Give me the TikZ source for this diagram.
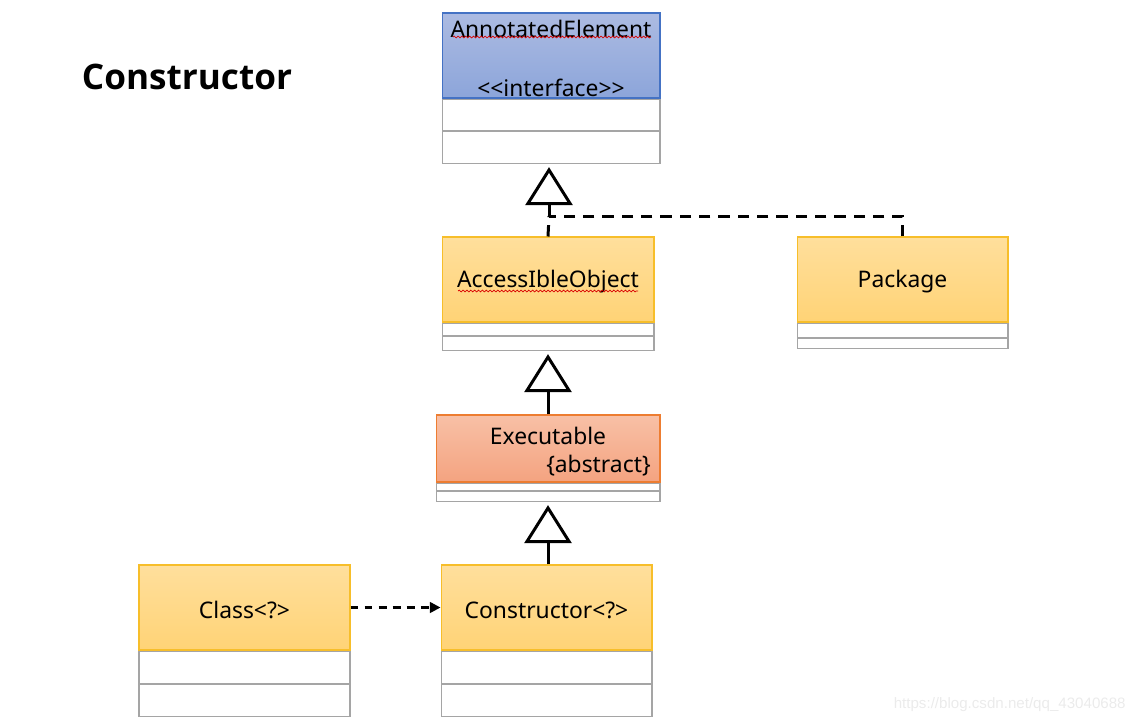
\documentclass[tikz,border=0pt]{standalone}
\usepackage{fontspec}
\setmainfont{Noto Sans}
\newfontfamily\titlefont{Open Sans}
\newfontfamily\wmfont{Liberation Sans}
\usepackage{xcolor}
\usepackage{tikz}
\usetikzlibrary{arrows.meta}
\usetikzlibrary{positioning}
\usetikzlibrary{decorations.pathmorphing}

\definecolor{yeltop}{RGB}{255,223,156}
\definecolor{yelbot}{RGB}{255,211,118}
\definecolor{yeledge}{RGB}{247,190,42}
\definecolor{bluetop}{RGB}{172,187,226}
\definecolor{bluebot}{RGB}{140,165,218}
\definecolor{blueedge}{RGB}{68,114,196}
\definecolor{saltop}{RGB}{248,192,166}
\definecolor{salbot}{RGB}{244,163,128}
\definecolor{saledge}{RGB}{237,125,49}
\definecolor{rowedge}{RGB}{165,165,165}

\tikzset{
  hdr/.style={draw=yeledge, line width=0.6pt, top color=yeltop, bottom color=yelbot,
              inner sep=0pt, minimum width=4.22cm, minimum height=1.70cm},
  row/.style={draw=rowedge, line width=0.6pt, fill=white, inner sep=0pt, minimum width=4.22cm},
  txt/.style={inner sep=0pt, font=\fontsize{13}{15.5}\selectfont},
  inherit/.style={line width=1.7pt, -{Triangle[open, length=0.76cm, width=0.94cm]}, shorten >=2pt},
  realize/.style={line width=1.7pt, dash pattern=on 6.5pt off 4.5pt},
  depend/.style={line width=1.4pt, dash pattern=on 4.5pt off 3.5pt, -{Triangle[length=6pt, width=6pt]}},
  typo/.style={red!85!black, line width=0.4pt, decorate, decoration={snake, amplitude=0.5pt, segment length=2.2pt}}
}

\begin{document}
\begin{tikzpicture}[x=0.02cm, y=-0.02cm]
\useasboundingbox (0,0) rectangle (1135,724);

%% title
\node[inner sep=0pt, font=\titlefont\fontsize{20}{24}\selectfont\bfseries] (title) at (187,77) {Constructor};

%% AnnotatedElement
\node[hdr, draw=blueedge, top color=bluetop, bottom color=bluebot, minimum width=4.36cm] (annot) at (551,55.5) {};
\node[row, minimum width=4.36cm, minimum height=0.62cm, below=0pt of annot] (annot-attr) {};
\node[row, minimum width=4.36cm, minimum height=0.64cm, below=0pt of annot-attr] (annot-ops) {};
\node[txt] (annot-name) at (551,29) {AnnotatedElement};
\node[txt] (annot-st) at (551,88) {<\kern0pt<interface>\kern0pt>};
\draw[typo] (453,37) -- (651,37);

%% AccessIbleObject
\node[hdr, minimum width=4.24cm] (access) at (548,279.5) {};
\node[row, minimum width=4.24cm, minimum height=0.24cm, below=0pt of access] (access-attr) {};
\node[row, minimum width=4.24cm, minimum height=0.28cm, below=0pt of access-attr] (access-ops) {};
\node[txt] (access-name) at (548,282) {AccessIbleObject};
\draw[typo] (458,291) -- (638,291);

%% Package
\node[hdr] (pkg) at (902.5,279.5) {};
\node[row, minimum height=0.28cm, below=0pt of pkg] (pkg-attr) {};
\node[row, minimum height=0.20cm, below=0pt of pkg-attr] (pkg-ops) {};
\node[txt] (pkg-name) at (902.5,282) {Package};

%% Executable
\node[hdr, draw=saledge, top color=saltop, bottom color=salbot, minimum width=4.48cm, minimum height=1.34cm] (exec) at (548,448.5) {};
\node[row, minimum width=4.48cm, minimum height=0.14cm, below=0pt of exec] (exec-attr) {};
\node[row, minimum width=4.48cm, minimum height=0.20cm, below=0pt of exec-attr] (exec-ops) {};
\node[txt] (exec-name) at (548,436) {Executable};
\node[txt, anchor=east] (exec-st) at (651,466) {\{abstract\}};

%% Constructor<?>
\node[hdr] (cons) at (546.5,607.5) {};
\node[row, minimum height=0.64cm, below=0pt of cons] (cons-attr) {};
\node[row, minimum height=0.64cm, below=0pt of cons-attr] (cons-ops) {};
\node[txt] (cons-name) at (546.5,610) {Constructor<?>};

%% Class<?>
\node[hdr] (cls) at (244.5,607.5) {};
\node[row, minimum height=0.64cm, below=0pt of cls] (cls-attr) {};
\node[row, minimum height=0.64cm, below=0pt of cls-attr] (cls-ops) {};
\node[txt] (cls-name) at (244.5,610) {Class<?>};

%% connectors
\coordinate (join) at (549,216);
\draw[realize] (access.north) -- (join);
\draw[realize] (pkg.north) |- (join);
\draw[inherit] (join) -- (annot-ops.south -| join);
\draw[inherit] (exec.north) -- (access-ops.south -| exec.north);
\draw[inherit] (cons.north -| exec.north) -- (exec-ops.south -| exec.north);
\draw[depend] (cls.east) -- (cons.west);

%% watermark
\node[inner sep=0pt, anchor=east, text=black!8, font=\wmfont\fontsize{8.6}{10}\selectfont] (mark) at (1126,705) {https://blog.csdn.net/qq\_43040688};
\end{tikzpicture}
\end{document}
